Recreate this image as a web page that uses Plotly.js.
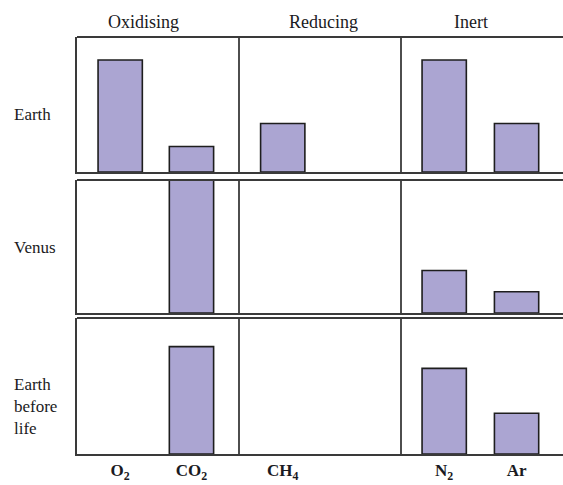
<!DOCTYPE html>
<html>
<head>
<meta charset="utf-8">
<script src="https://cdn.plot.ly/plotly-3.0.1.min.js"></script>
<style>html,body{margin:0;padding:0;background:#fff;}#chart{width:563px;height:485px;}</style>
</head>
<body>
<div id="chart"></div>
<script>
// ---- data ----
const gases = ['O<sub>2</sub>', 'CO<sub>2</sub>', 'CH<sub>4</sub>', 'N<sub>2</sub>', 'Ar'];
const groups = ['Oxidising', 'Reducing', 'Inert'];
const planets = ['Earth', 'Venus', 'Earth<br>before<br>life'];
const earth = [83, 19, 36, 83, 36];
const venus = [0, 100, 0, 32, 16];
const earthBeforeLife = [0, 79, 0, 63, 30];

// ---- layout constants ----
const slotX = [0.8, 2.12, 3.81, 6.8, 8.14];   // gas slot positions on the x scale
const groupEdges = [3, 6];                     // dividers between groups
const groupTitleX = [1.23, 4.57, 7.3];
const panelDomains = [[0.676, 1.0], [0.338, 0.657], [0.0, 0.326]];
const rowLabelY = [0.814, 0.496, 0.113];

const fill = '#ABA5D2';
const edge = '#1e1e1e';
const frame = '#3a3a3a';
const textColor = '#1a1a22';
const serif = '"Liberation Serif", "Times New Roman", serif';

const series = [earth, venus, earthBeforeLife];
const traces = series.map((vals, i) => ({
  type: 'bar',
  x: slotX,
  y: vals.map(v => (v === 0 ? null : v)),
  width: 0.82,
  xaxis: i === 0 ? 'x' : 'x' + (i + 1),
  yaxis: i === 0 ? 'y' : 'y' + (i + 1),
  marker: { color: fill, line: { color: edge, width: 1.6 } },
  hoverinfo: 'skip',
  showlegend: false
}));

const layout = {
  width: 563, height: 485,
  margin: { l: 77, r: 0, t: 37, b: 31 },
  paper_bgcolor: '#fff', plot_bgcolor: '#fff',
  font: { family: serif, color: textColor },
  showlegend: false,
  shapes: [],
  annotations: []
};

for (let i = 0; i < 3; i++) {
  const xs = i === 0 ? 'xaxis' : 'xaxis' + (i + 1);
  const ys = i === 0 ? 'yaxis' : 'yaxis' + (i + 1);
  const yr = i === 0 ? 'y' : 'y' + (i + 1);
  const xr = i === 0 ? 'x' : 'x' + (i + 1);
  layout[xs] = {
    domain: [0, 1], range: [0, 9], anchor: yr,
    showline: true, linecolor: frame, linewidth: 2,
    showgrid: false, zeroline: false, fixedrange: true,
    tickmode: 'array', tickvals: slotX, ticktext: gases,
    showticklabels: i === 2, ticks: '',
    tickfont: { family: serif, size: 17, color: textColor, weight: 'bold' }
  };
  layout[ys] = {
    domain: panelDomains[i], range: [0, 100], anchor: xr,
    showline: true, linecolor: frame, linewidth: 2,
    showgrid: false, zeroline: false, showticklabels: false, ticks: '', fixedrange: true
  };
  // top border
  layout.shapes.push({ type: 'line', xref: 'paper', x0: 0, x1: 1, yref: yr + ' domain', y0: 1, y1: 1,
    line: { color: frame, width: 2 } });
  // group dividers
  groupEdges.forEach(g => layout.shapes.push({ type: 'line', xref: xr, x0: g, x1: g,
    yref: yr + ' domain', y0: 0, y1: 1, line: { color: frame, width: 1.8 } }));
  // row label
  layout.annotations.push({ text: planets[i], xref: 'paper', yref: 'paper', x: -0.134, y: rowLabelY[i],
    xanchor: 'left', yanchor: 'middle', align: 'left', showarrow: false,
    font: { family: serif, size: 17, color: textColor } });
}
groups.forEach((g, j) => layout.annotations.push({ text: g, xref: 'x', yref: 'paper',
  x: groupTitleX[j], y: 1.036, xanchor: 'center', yanchor: 'middle', showarrow: false,
  font: { family: serif, size: 18, color: textColor } }));

Plotly.newPlot('chart', traces, layout, { displayModeBar: false, staticPlot: true });
</script>
</body>
</html>
